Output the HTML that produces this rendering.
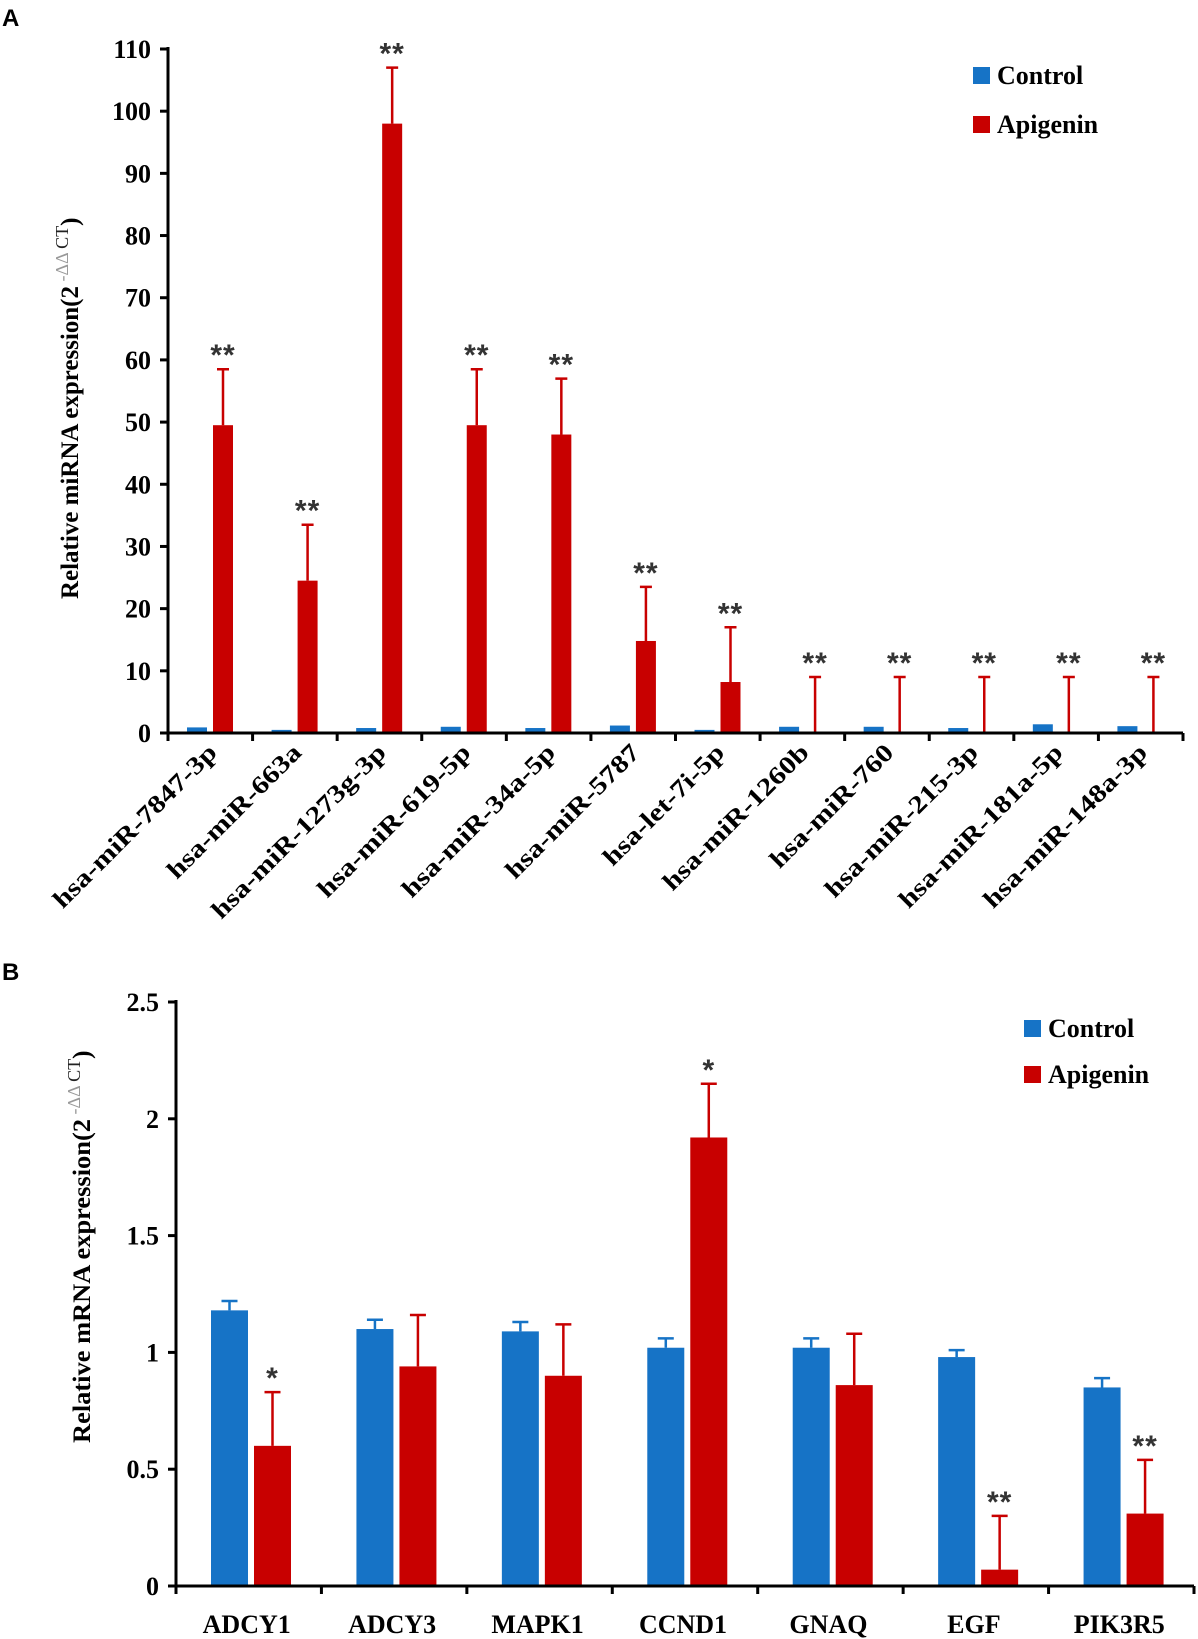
<!DOCTYPE html>
<html><head><meta charset="utf-8">
<style>
body{margin:0;background:#fff;}
svg{display:block;font-family:"Liberation Serif",serif;font-weight:bold;}
</style></head>
<body>
<svg id="fig" width="1198" height="1639" viewBox="0 0 1198 1639" xmlns="http://www.w3.org/2000/svg">
<text x="2" y="26" font-family="Liberation Sans,sans-serif" font-size="24">A</text>
<text x="2" y="980" font-family="Liberation Sans,sans-serif" font-size="24">B</text>
<g id="chartA"></g>
<g id="chartB"></g>
</svg>
<script>
const catsA = ["hsa-miR-7847-3p","hsa-miR-663a","hsa-miR-1273g-3p","hsa-miR-619-5p","hsa-miR-34a-5p","hsa-miR-5787","hsa-let-7i-5p","hsa-miR-1260b","hsa-miR-760","hsa-miR-215-3p","hsa-miR-181a-5p","hsa-miR-148a-3p"];
const ctrlA = [0.9,0.5,0.8,1.0,0.8,1.2,0.5,1.0,1.0,0.8,1.4,1.1];
const apiA = [49.5,24.5,98,49.5,48,14.8,8.2,0,0,0,0,0];
const apiErrTopA = [58.5,33.5,107,58.5,57,23.5,17,9,9,9,9,9];
const sigA = ["**","**","**","**","**","**","**","**","**","**","**","**"];
const ticksA = [0,10,20,30,40,50,60,70,80,90,100,110];

const catsB = ["ADCY1","ADCY3","MAPK1","CCND1","GNAQ","EGF","PIK3R5"];
const ctrlB = [1.18,1.10,1.09,1.02,1.02,0.98,0.85];
const ctrlErrTopB = [1.22,1.14,1.13,1.06,1.06,1.01,0.89];
const apiB = [0.60,0.94,0.90,1.92,0.86,0.07,0.31];
const apiErrTopB = [0.83,1.16,1.12,2.15,1.08,0.30,0.54];
const sigB = ["*","","","*","","**","**"];
const ticksB = [0,0.5,1,1.5,2,2.5];

const NS="http://www.w3.org/2000/svg";
const BLUE="#1673c6", RED="#c80000";
function mk(parent,tag,attrs,text){const e=document.createElementNS(NS,tag);for(const k in attrs)e.setAttribute(k,attrs[k]);if(text!==undefined)e.textContent=text;parent.appendChild(e);return e;}

function draw(g,cfg){
  const {x0,x1,y0,yTop,vmax,cats,ctrl,ctrlErr,api,apiErr,sig,ticks,blueOff,redOff,bw,capW}=cfg;
  const band=(x1-x0)/cats.length;
  const ys=v=>y0-(v/vmax)*(y0-yTop);
  const bx=i=>x0+i*band;
  for(let i=0;i<cats.length;i++){
    const b=mk(g,'rect',{x:bx(i)+blueOff,y:ys(ctrl[i]),width:bw,height:y0-ys(ctrl[i]),fill:BLUE});
    
    
    if(ctrlErr){
      const cx=bx(i)+blueOff+bw/2;
      const e=mk(g,'path',{d:`M${cx} ${ys(ctrl[i])}V${ys(ctrlErr[i])}M${cx-capW} ${ys(ctrlErr[i])}H${cx+capW}`,stroke:BLUE,'stroke-width':2.5,fill:'none'});
      
      
    }
    const r=mk(g,'rect',{x:bx(i)+redOff,y:ys(api[i]),width:bw,height:y0-ys(api[i]),fill:RED});
    
    
    const rx=bx(i)+redOff+bw/2;
    const e2=mk(g,'path',{d:`M${rx} ${ys(api[i])}V${ys(apiErr[i])}M${rx-capW} ${ys(apiErr[i])}H${rx+capW}`,stroke:RED,'stroke-width':2.5,fill:'none'});
    
    
    if(sig[i]){
      const s=mk(g,'text',{x:rx,y:ys(apiErr[i])-4,'text-anchor':'middle','font-size':30,fill:'#333','font-family':'Liberation Sans,sans-serif','font-weight':'bold','letter-spacing':'1'},sig[i]);
      
      
    }
  }
  const ax=mk(g,'path',{d:`M${x0} ${yTop-2}V${y0}H${x1}`,stroke:'#000','stroke-width':3,fill:'none'});
  
  
  for(let i=0;i<=cats.length;i++){
    mk(g,'line',{x1:bx(i),x2:bx(i),y1:y0,y2:y0+8,stroke:'#000','stroke-width':3});
  }
  ticks.forEach(t=>{
    mk(g,'line',{x1:x0-8,x2:x0,y1:ys(t),y2:ys(t),stroke:'#000','stroke-width':3});
    const tl=mk(g,'text',{x:x0-17,y:ys(t)+9,'text-anchor':'end','font-size':cfg.tickFs},String(t));
    
    
  });
  return {bx,band};
}

const gA=document.getElementById('chartA');
const A=draw(gA,{x0:168,x1:1183,y0:733,yTop:49,vmax:110,cats:catsA,ctrl:ctrlA,ctrlErr:null,api:apiA,apiErr:apiErrTopA,sig:sigA,ticks:ticksA,blueOff:19,redOff:45,bw:20,capW:6,tickFs:26});
catsA.forEach((c,i)=>{
  const cx=A.bx(i)+A.band/2+8;
  const t=mk(gA,'text',{x:0,y:0,'text-anchor':'end','font-size':25,transform:`translate(${cx},${754}) rotate(-45)`},c);
  
  
  const w=t.getComputedTextLength();
  t.setAttribute('textLength',w*1.2);
  t.setAttribute('lengthAdjust','spacingAndGlyphs');
});
const gB=document.getElementById('chartB');
const B=draw(gB,{x0:176,x1:1194,y0:1586,yTop:1002,vmax:2.5,cats:catsB,ctrl:ctrlB,ctrlErr:ctrlErrTopB,api:apiB,apiErr:apiErrTopB,sig:sigB,ticks:ticksB,blueOff:35,redOff:78,bw:37,capW:8,tickFs:26});
catsB.forEach((c,i)=>{
  const t=mk(gB,'text',{x:B.bx(i)+B.band/2-2,y:1633,'text-anchor':'middle','font-size':26},c);
  
  
});

function ytitle(g,x,yb,main,len,name){
  const t=mk(g,'text',{x:0,y:0,'font-size':25,transform:`translate(${x},${yb}) rotate(-90)`});
  
  
  mk(t,'tspan',{textLength:len,lengthAdjust:'spacingAndGlyphs'},main);
  mk(t,'tspan',{dy:-10,'font-size':18,fill:'#999','font-weight':'normal'}," -\u0394\u0394 ");
  mk(t,'tspan',{'font-size':18,'font-weight':'normal',fill:'#222'},"CT");
  mk(t,'tspan',{dy:10},")");
}
ytitle(gA,78,599,"Relative miRNA expression(2",313,'y-axis-title');
ytitle(gB,90,1443,"Relative mRNA expression(2",324,'y-axis-title');

function legend(g,x,y1,y2){
  [[y1,BLUE,'Control'],[y2,RED,'Apigenin']].forEach(([y,col,lab])=>{
    const s=mk(g,'rect',{x:x,y:y-17,width:17,height:17,fill:col});
    
    
    const t=mk(g,'text',{x:x+24,y:y,'font-size':26},lab);
    
    
  });
}
legend(gA,973,84,133);
legend(gB,1024,1037,1083);
</script>
</body></html>
